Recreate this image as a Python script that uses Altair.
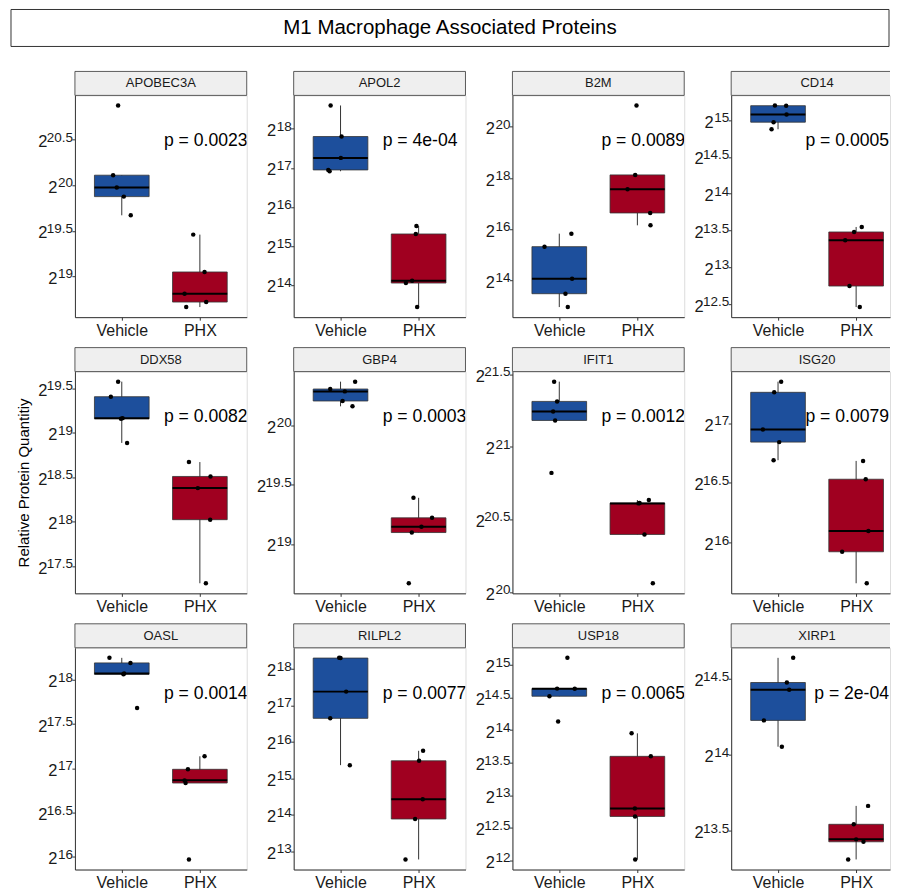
import altair as alt
import pandas as pd

proteins = ["APOBEC3A", "APOL2", "B2M", "CD14", "DDX58", "GBP4",
            "IFIT1", "ISG20", "OASL", "RILPL2", "USP18", "XIRP1"]
p_labels = ["p = 0.0023", "p = 4e-04", "p = 0.0089", "p = 0.0005",
            "p = 0.0082", "p = 0.0003", "p = 0.0012", "p = 0.0079",
            "p = 0.0014", "p = 0.0077", "p = 0.0065", "p = 2e-04"]

# log2 protein quantities
vehicle_log2 = {
    "APOBEC3A": [20.875, 20.110, 19.974, 19.875, 19.670],
    "APOL2":    [18.600, 17.803, 17.255, 16.946, 16.912],
    "B2M":      [15.826, 15.318, 14.065, 13.479, 12.957],
    "CD14":     [15.200, 15.197, 15.077, 14.973, 14.877],
    "DDX58":    [19.576, 19.407, 19.166, 19.160, 18.887],
    "GBP4":     [20.369, 20.307, 20.287, 20.206, 20.161],
    "IFIT1":    [21.449, 21.313, 21.244, 21.182, 20.821],
    "ISG20":    [17.346, 17.257, 16.947, 16.841, 16.690],
    "OASL":     [18.249, 18.192, 18.072, 18.064, 17.683],
    "RILPL2":   [18.302, 18.296, 17.377, 16.645, 15.363],
    "USP18":    [15.108, 14.636, 14.634, 14.519, 14.130],
    "XIRP1":    [14.636, 14.474, 14.427, 14.225, 14.052],
}
vehicle_jitter = {
    "APOBEC3A": [-0.047, -0.111, -0.064, 0.026, 0.115],
    "APOL2":    [-0.127, 0.013, 0.004, -0.157, -0.140],
    "B2M":      [0.155, -0.189, 0.164, 0.079, 0.109],
    "CD14":     [-0.040, 0.104, 0.109, -0.057, -0.083],
    "DDX58":    [-0.047, -0.140, 0.010, -0.010, 0.068],
    "GBP4":     [0.187, -0.132, 0.055, 0.026, 0.153],
    "IFIT1":    [-0.066, -0.028, -0.079, -0.053, -0.100],
    "ISG20":    [0.040, -0.049, -0.194, 0.015, -0.057],
    "OASL":     [-0.158, 0.111, 0.030, 0.021, 0.196],
    "RILPL2":   [-0.017, 0.000, 0.072, -0.132, 0.119],
    "USP18":    [0.104, -0.028, 0.198, -0.126, -0.015],
    "XIRP1":    [0.194, 0.113, 0.143, -0.181, 0.049],
}
phx_log2 = {
    "APOBEC3A": [19.458, 19.048, 18.810, 18.718, 18.663],
    "APOL2":    [15.507, 15.302, 14.103, 14.043, 13.426],
    "B2M":      [20.835, 18.122, 17.561, 16.635, 16.152],
    "CD14":     [13.548, 13.480, 13.367, 12.745, 12.459],
    "DDX58":    [18.672, 18.510, 18.379, 18.024, 17.309],
    "GBP4":     [19.389, 19.220, 19.144, 19.096, 18.668],
    "IFIT1":    [20.634, 20.613, 20.611, 20.397, 20.061],
    "ISG20":    [16.684, 16.531, 16.098, 15.925, 15.662],
    "OASL":     [17.136, 16.989, 16.864, 16.834, 15.970],
    "RILPL2":   [15.756, 15.482, 14.429, 13.888, 12.780],
    "USP18":    [13.950, 13.597, 12.798, 12.675, 12.015],
    "XIRP1":    [13.663, 13.542, 13.443, 13.427, 13.311],
}
phx_jitter = {
    "APOBEC3A": [-0.085, 0.060, -0.196, 0.081, -0.175],
    "APOL2":    [-0.028, -0.036, -0.083, -0.163, -0.019],
    "B2M":      [-0.011, -0.028, -0.126, 0.164, 0.168],
    "CD14":     [0.072, -0.026, -0.140, -0.085, 0.047],
    "DDX58":    [-0.140, 0.136, -0.026, 0.132, 0.077],
    "GBP4":     [-0.066, 0.172, 0.036, -0.087, -0.126],
    "IFIT1":    [0.147, 0.028, 0.015, 0.091, 0.198],
    "ISG20":    [0.089, 0.123, 0.157, -0.179, 0.136],
    "OASL":     [0.060, -0.153, -0.196, -0.183, -0.140],
    "RILPL2":   [0.057, 0.006, 0.053, -0.045, -0.168],
    "USP18":    [-0.074, 0.172, -0.032, -0.030, -0.028],
    "XIRP1":    [0.153, -0.030, 0.000, 0.094, -0.102],
}
y_ticks = {
    "APOBEC3A": [19, 19.5, 20, 20.5],
    "APOL2":    [14, 15, 16, 17, 18],
    "B2M":      [14, 16, 18, 20],
    "CD14":     [12.5, 13, 13.5, 14, 14.5, 15],
    "DDX58":    [17.5, 18, 18.5, 19, 19.5],
    "GBP4":     [19, 19.5, 20],
    "IFIT1":    [20, 20.5, 21, 21.5],
    "ISG20":    [16, 16.5, 17],
    "OASL":     [16, 16.5, 17, 17.5, 18],
    "RILPL2":   [13, 14, 15, 16, 17, 18],
    "USP18":    [12, 12.5, 13, 13.5, 14, 14.5, 15],
    "XIRP1":    [13.5, 14, 14.5],
}
groups = ["Vehicle", "PHX"]
group_colors = ["#1D4F9C", "#A00020"]
title_text = "M1 Macrophage Associated Proteins"
y_title = "Relative Protein Quantitiy"

W, H = 172, 222
W_LAST = 159          # last column is cut by the page edge in the reference
X_SPAN = 2.2          # x units spanned by a full-width panel (0.4 .. 2.6)
FONT = "Liberation Sans"
EXP_SIZE = 13.5


def panel(idx, prot):
    last_col = (idx % 4) == 3
    pw = W_LAST if last_col else W
    rows = []
    for val, j in zip(vehicle_log2[prot], vehicle_jitter[prot]):
        rows.append({"group": "Vehicle", "pos": 1, "value": val, "jit": j})
    for val, j in zip(phx_log2[prot], phx_jitter[prot]):
        rows.append({"group": "PHX", "pos": 2, "value": val, "jit": j})
    df = pd.DataFrame(rows)
    allv = vehicle_log2[prot] + phx_log2[prot]
    lo, hi = min(allv), max(allv)
    rng = hi - lo
    dom = [lo - 0.05 * rng, hi + 0.05 * rng]
    xmax = 0.4 + X_SPAN * pw / W

    xsc = alt.Scale(domain=[0.4, xmax], nice=False, zero=False)
    ysc = alt.Scale(domain=dom, nice=False, zero=False)
    xaxis = alt.Axis(values=[1, 2], labelExpr="datum.value == 1 ? 'Vehicle' : 'PHX'",
                     title=None, labelFontSize=16, labelPadding=2, labelFlush=False)
    show_title = prot == "DDX58"
    yaxis_kw = dict(values=y_ticks[prot], labelExpr="'2'", labelFontSize=16.5,
                    labelOffset=2,
                    labelPadding={"condition": {"test": "datum.value % 1 != 0", "value": 25},
                                  "value": 15})
    if show_title:
        yaxis = alt.Axis(title=y_title, titleFontSize=15, titleFontWeight="normal",
                         titleColor="#000000", titlePadding=6, **yaxis_kw)
    else:
        yaxis = alt.Axis(title=None, **yaxis_kw)

    def X(f):
        return alt.X(f, scale=xsc, axis=xaxis)

    def Y(f):
        return alt.Y(f, scale=ysc, axis=yaxis)

    stats = (alt.Chart(df)
             .transform_joinaggregate(q1="q1(value)", q3="q3(value)", med="median(value)",
                                      groupby=["pos"])
             .transform_calculate(lof="datum.q1 - 1.5 * (datum.q3 - datum.q1)",
                                  hif="datum.q3 + 1.5 * (datum.q3 - datum.q1)")
             .transform_filter("datum.value >= datum.lof && datum.value <= datum.hif")
             .transform_aggregate(lo="min(value)", hi="max(value)", q1="max(q1)",
                                  q3="max(q3)", med="max(med)", groupby=["pos", "group"])
             .transform_calculate(xl="datum.pos - 0.35", xr="datum.pos + 0.35"))

    whisker = stats.mark_rule(color="#333333", strokeWidth=1).encode(
        x=X("pos:Q"), y=Y("lo:Q"), y2="hi:Q")
    box = stats.mark_bar(stroke="#333333", strokeWidth=0.8, opacity=1).encode(
        x=X("xl:Q"), x2="xr:Q", y=Y("q1:Q"), y2="q3:Q",
        color=alt.Color("group:N", scale=alt.Scale(domain=groups, range=group_colors),
                        legend=None))
    median = stats.mark_rule(color="#000000", strokeWidth=2).encode(
        x=X("xl:Q"), x2="xr:Q", y=Y("med:Q"))
    points = alt.Chart(df).transform_calculate(xj="datum.pos + datum.jit").mark_circle(
        size=20, color="#000000", opacity=1).encode(x=X("xj:Q"), y=Y("value:Q"))

    tick_df = pd.DataFrame({"t": y_ticks[prot],
                            "lab": [f"{t:g}" for t in y_ticks[prot]]})
    exps = alt.Chart(tick_df).mark_text(align="right", baseline="alphabetic", dy=2,
                                        fontSize=EXP_SIZE, font=FONT, color="#1a1a1a").encode(
        x=alt.value(-2), y=Y("t:Q"), text="lab:N")

    py = hi + 0.05 * rng - 0.207 * (1.1 * rng)
    if last_col:
        # the page edge cuts this column: keep the whole label inside the panel
        ptxt_df = pd.DataFrame({"px": [xmax], "py": [py], "lab": [p_labels[idx]]})
        ptxt = alt.Chart(ptxt_df).mark_text(align="right", baseline="middle", dx=-1,
                                            fontSize=17.6, font=FONT,
                                            color="#000000").encode(
            x=X("px:Q"), y=Y("py:Q"), text="lab:N")
    else:
        ptxt_df = pd.DataFrame({"px": [1.54], "py": [py], "lab": [p_labels[idx]]})
        ptxt = alt.Chart(ptxt_df).mark_text(align="left", baseline="middle", fontSize=17.6,
                                            font=FONT, color="#000000", clip=True).encode(
            x=X("px:Q"), y=Y("py:Q"), text="lab:N")

    strip_df = pd.DataFrame({"name": [prot]})
    strip_txt = alt.Chart(strip_df).mark_text(fontSize=13, font=FONT, color="#1a1a1a",
                                              baseline="middle").encode(
        x=alt.value(W / 2), y=alt.value(-12), text="name:N")
    if last_col:
        sbase = alt.Chart(strip_df)
        strip_layers = [
            sbase.mark_rect(fill="#EFEFEF").encode(
                x=alt.value(0), x2=alt.value(pw), y=alt.value(-24), y2=alt.value(0)),
            sbase.mark_rule(color="#333333", strokeWidth=0.8).encode(
                x=alt.value(0), x2=alt.value(pw), y=alt.value(-24)),
            sbase.mark_rule(color="#333333", strokeWidth=0.8).encode(
                x=alt.value(0), x2=alt.value(pw), y=alt.value(0)),
            sbase.mark_rule(color="#333333", strokeWidth=0.8).encode(
                x=alt.value(0), y=alt.value(-24), y2=alt.value(0)),
        ]
    else:
        strip_layers = [alt.Chart(strip_df).mark_rect(fill="#EFEFEF", stroke="#333333",
                                                      strokeWidth=0.8).encode(
            x=alt.value(0), x2=alt.value(pw), y=alt.value(-24), y2=alt.value(0))]

    layers = [whisker, box, median, points, exps, ptxt] + strip_layers + [strip_txt]
    if idx == 0:
        t_df = pd.DataFrame({"title": [title_text]})
        tbox = alt.Chart(t_df).mark_rect(fill="#FFFFFF", stroke="#333333",
                                        strokeWidth=1).encode(
            x=alt.value(-64), x2=alt.value(815), y=alt.value(-86), y2=alt.value(-49))
        ttxt = alt.Chart(t_df).mark_text(fontSize=20.5, font=FONT, color="#000000",
                                         baseline="middle").encode(
            x=alt.value(375.5), y=alt.value(-67), text="title:N")
        layers += [tbox, ttxt]
    return alt.layer(*layers).properties(width=pw, height=H)


panels = [panel(i, p) for i, p in enumerate(proteins)]

chart = (alt.concat(*panels, columns=4, spacing={"row": 54.5, "column": 47},
                    bounds="flush")
         .properties(padding={"left": 2, "top": 0, "right": 0, "bottom": 0})
         .configure_view(stroke=None)
         .configure(font=FONT)
         .configure_axis(domainColor="#333333", tickColor="#333333", tickSize=3,
                         labelColor="#1a1a1a", grid=False, domainWidth=1, tickWidth=1,
                         labelFont=FONT, titleFont=FONT))

chart.save("out.html", embed_options={"renderer": "svg", "actions": False})
